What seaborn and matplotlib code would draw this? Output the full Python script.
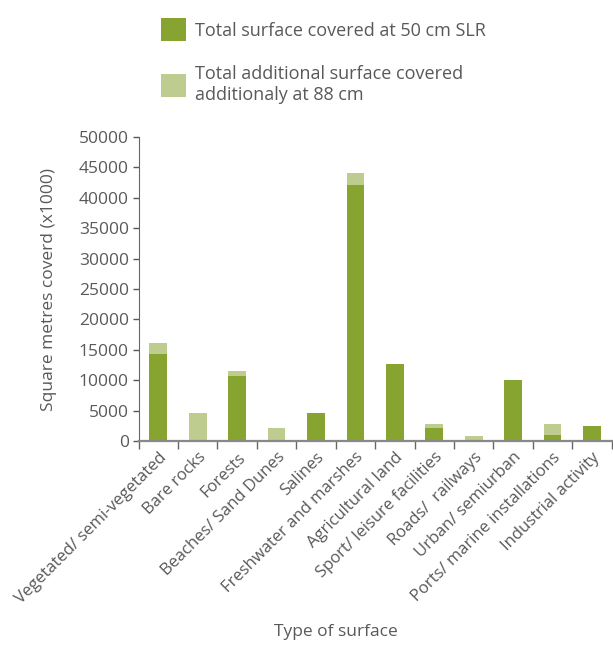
import matplotlib
matplotlib.use("Agg")
import matplotlib.pyplot as plt
from matplotlib.patches import Patch
from matplotlib.ticker import FixedLocator
import pandas as pd
import seaborn as sns

# surface types
categories = ["Vegetated/ semi-vegetated", "Bare rocks", "Forests",
              "Beaches/ Sand Dunes", "Salines", "Freshwater and marshes",
              "Agricultural land", "Sport/ leisure facilities",
              "Roads/  railways", "Urban/ semiurban",
              "Ports/ marine installations", "Industrial activity"]
# square metres (x1000) covered at 50 cm SLR
surface_50 = [14300, 0, 10700, 0, 4600, 42100, 12650, 2150, 0, 10000, 1000, 2450]
# additional surface covered at 88 cm
additional_88 = [1800, 4600, 800, 2150, 0, 2000, 0, 650, 800, 0, 1800, 0]

dark = "#87a330"
light = "#bfcc90"
grey = "#58595b"

df = pd.DataFrame({"Type": categories, "s50": surface_50, "add88": additional_88})
df["total"] = df["s50"] + df["add88"]

sns.set_style("white")
plt.rcParams["font.family"] = ["Open Sans", "DejaVu Sans"]

fig = plt.figure(figsize=(6.13, 6.5), dpi=100)
ax = fig.add_axes([0.226, 0.3215, 0.772, 0.4677])

# light bar shows the total; dark bar drawn over it
sns.barplot(data=df, x="Type", y="total", color=light, width=0.45,
            saturation=1, linewidth=0, edgecolor="none", ax=ax)
sns.barplot(data=df, x="Type", y="s50", color=dark, width=0.45,
            saturation=1, linewidth=0, edgecolor="none", ax=ax)

ax.set_xlim(-0.5, len(categories) - 0.5)
ax.set_ylim(0, 50000)
ax.set_yticks(range(0, 50001, 5000))
ax.tick_params(axis="y", labelsize=12.5, colors=grey, length=4, width=1,
               direction="out", left=True, pad=3)
ax.tick_params(axis="x", which="major", length=0, labelsize=12,
               labelcolor=grey, pad=6)
ax.xaxis.set_minor_locator(FixedLocator([i - 0.5 for i in range(len(categories) + 1)]))
ax.tick_params(axis="x", which="minor", length=6, width=1, colors="#666666",
               direction="out", bottom=True)
ax.set_xticks(range(len(categories)))
ax.set_xticklabels(categories, rotation=45, ha="right", rotation_mode="anchor")

for s in ["top", "right"]:
    ax.spines[s].set_visible(False)
ax.spines["left"].set_color("#666666")
ax.spines["bottom"].set_color("#888888")
ax.spines["bottom"].set_linewidth(1.6)

ax.set_ylabel("Square metres coverd (x1000)", fontsize=12.5, color=grey, labelpad=16)
ax.set_xlabel("")
fig.text(0.548, 0.015, "Type of surface", fontsize=12.5, color=grey,
         ha="center", va="bottom")

handles = [Patch(facecolor=dark, edgecolor="none"),
           Patch(facecolor=light, edgecolor="none")]
labels = ["Total surface covered at 50 cm SLR",
          "Total additional surface covered\nadditionaly at 88 cm"]
leg = fig.legend(handles, labels, loc="upper left",
                 bbox_to_anchor=(0.236, 0.997), frameon=False, fontsize=13,
                 handlelength=1.4, handleheight=1.6, handletextpad=0.5,
                 labelspacing=1.3, labelcolor=grey)

fig.savefig("out.png", dpi=100)
